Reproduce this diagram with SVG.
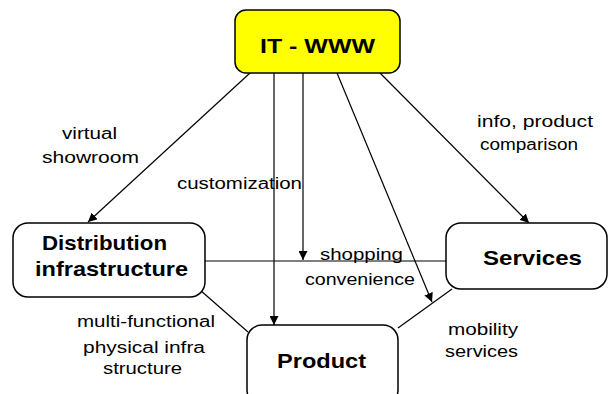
<svg xmlns="http://www.w3.org/2000/svg" width="609" height="394" viewBox="0 0 609 394">
<style>
.box{fill:#fff;stroke:#000;stroke-width:1.5}
.hub{fill:#ffff00;stroke:#000;stroke-width:1.5}
.bt{font-family:"Liberation Sans",Arial,sans-serif;font-weight:bold;font-size:21px;fill:#000}
.lb{font-family:"Liberation Sans",Arial,sans-serif;font-size:16px;fill:#000}
.cn{stroke:#000;stroke-width:1.2;fill:none}
</style>
<defs>
<marker id="ah" viewBox="0 0 10 10" refX="10" refY="5" markerWidth="9" markerHeight="9" markerUnits="userSpaceOnUse" orient="auto">
<path d="M0,0 L10,5 L0,10 z" fill="#000"/>
</marker>
</defs>
<rect width="609" height="394" fill="#fff"/>
<g id="connectors">
<line class="cn" x1="250" y1="73" x2="88" y2="222" marker-end="url(#ah)"/>
<line class="cn" x1="274" y1="73" x2="274" y2="325" marker-end="url(#ah)"/>
<line class="cn" x1="303" y1="73" x2="303" y2="260" marker-end="url(#ah)"/>
<line class="cn" x1="337" y1="73" x2="432" y2="302" marker-end="url(#ah)"/>
<line class="cn" x1="380" y1="73" x2="529" y2="223" marker-end="url(#ah)"/>
<line class="cn" x1="205" y1="261" x2="446" y2="261"/>
<line class="cn" x1="200" y1="290" x2="248" y2="332"/>
<line class="cn" x1="398" y1="328" x2="452" y2="289"/>
</g>
<g id="it-www">
<rect class="hub" x="235" y="10" width="165" height="63" rx="11"/>
<text class="bt" x="317.5" y="53" text-anchor="middle" textLength="115" lengthAdjust="spacingAndGlyphs">IT - WWW</text>
</g>
<g id="distribution">
<rect class="box" x="13" y="223" width="192" height="74" rx="15"/>
<text class="bt" x="104.5" y="250" text-anchor="middle" textLength="125" lengthAdjust="spacingAndGlyphs">Distribution</text>
<text class="bt" x="111.5" y="276" text-anchor="middle" textLength="153" lengthAdjust="spacingAndGlyphs">infrastructure</text>
</g>
<g id="services">
<rect class="box" x="446" y="223" width="161" height="66" rx="15"/>
<text class="bt" x="532.5" y="265" text-anchor="middle" textLength="99" lengthAdjust="spacingAndGlyphs">Services</text>
</g>
<g id="product">
<rect class="box" x="247" y="325" width="151" height="80" rx="15"/>
<text class="bt" x="321.5" y="368" text-anchor="middle" textLength="89" lengthAdjust="spacingAndGlyphs">Product</text>
</g>
<g id="labels">
<text class="lb" x="89.5" y="139" text-anchor="middle" textLength="55" lengthAdjust="spacingAndGlyphs">virtual</text>
<text class="lb" x="90.5" y="163" text-anchor="middle" textLength="97" lengthAdjust="spacingAndGlyphs">showroom</text>
<text class="lb" x="177" y="189" textLength="125" lengthAdjust="spacingAndGlyphs">customization</text>
<text class="lb" x="477" y="127" textLength="116" lengthAdjust="spacingAndGlyphs">info, product</text>
<text class="lb" x="480" y="150" textLength="98" lengthAdjust="spacingAndGlyphs">comparison</text>
<text class="lb" x="320" y="260" textLength="83" lengthAdjust="spacingAndGlyphs">shopping</text>
<text class="lb" x="305" y="285" textLength="110" lengthAdjust="spacingAndGlyphs">convenience</text>
<text class="lb" x="146" y="327" text-anchor="middle" textLength="138" lengthAdjust="spacingAndGlyphs">multi-functional</text>
<text class="lb" x="144" y="353" text-anchor="middle" textLength="122" lengthAdjust="spacingAndGlyphs">physical infra</text>
<text class="lb" x="142.5" y="374" text-anchor="middle" textLength="79" lengthAdjust="spacingAndGlyphs">structure</text>
<text class="lb" x="483" y="335" text-anchor="middle" textLength="70" lengthAdjust="spacingAndGlyphs">mobility</text>
<text class="lb" x="481.5" y="357" text-anchor="middle" textLength="73" lengthAdjust="spacingAndGlyphs">services</text>
</g>
</svg>
